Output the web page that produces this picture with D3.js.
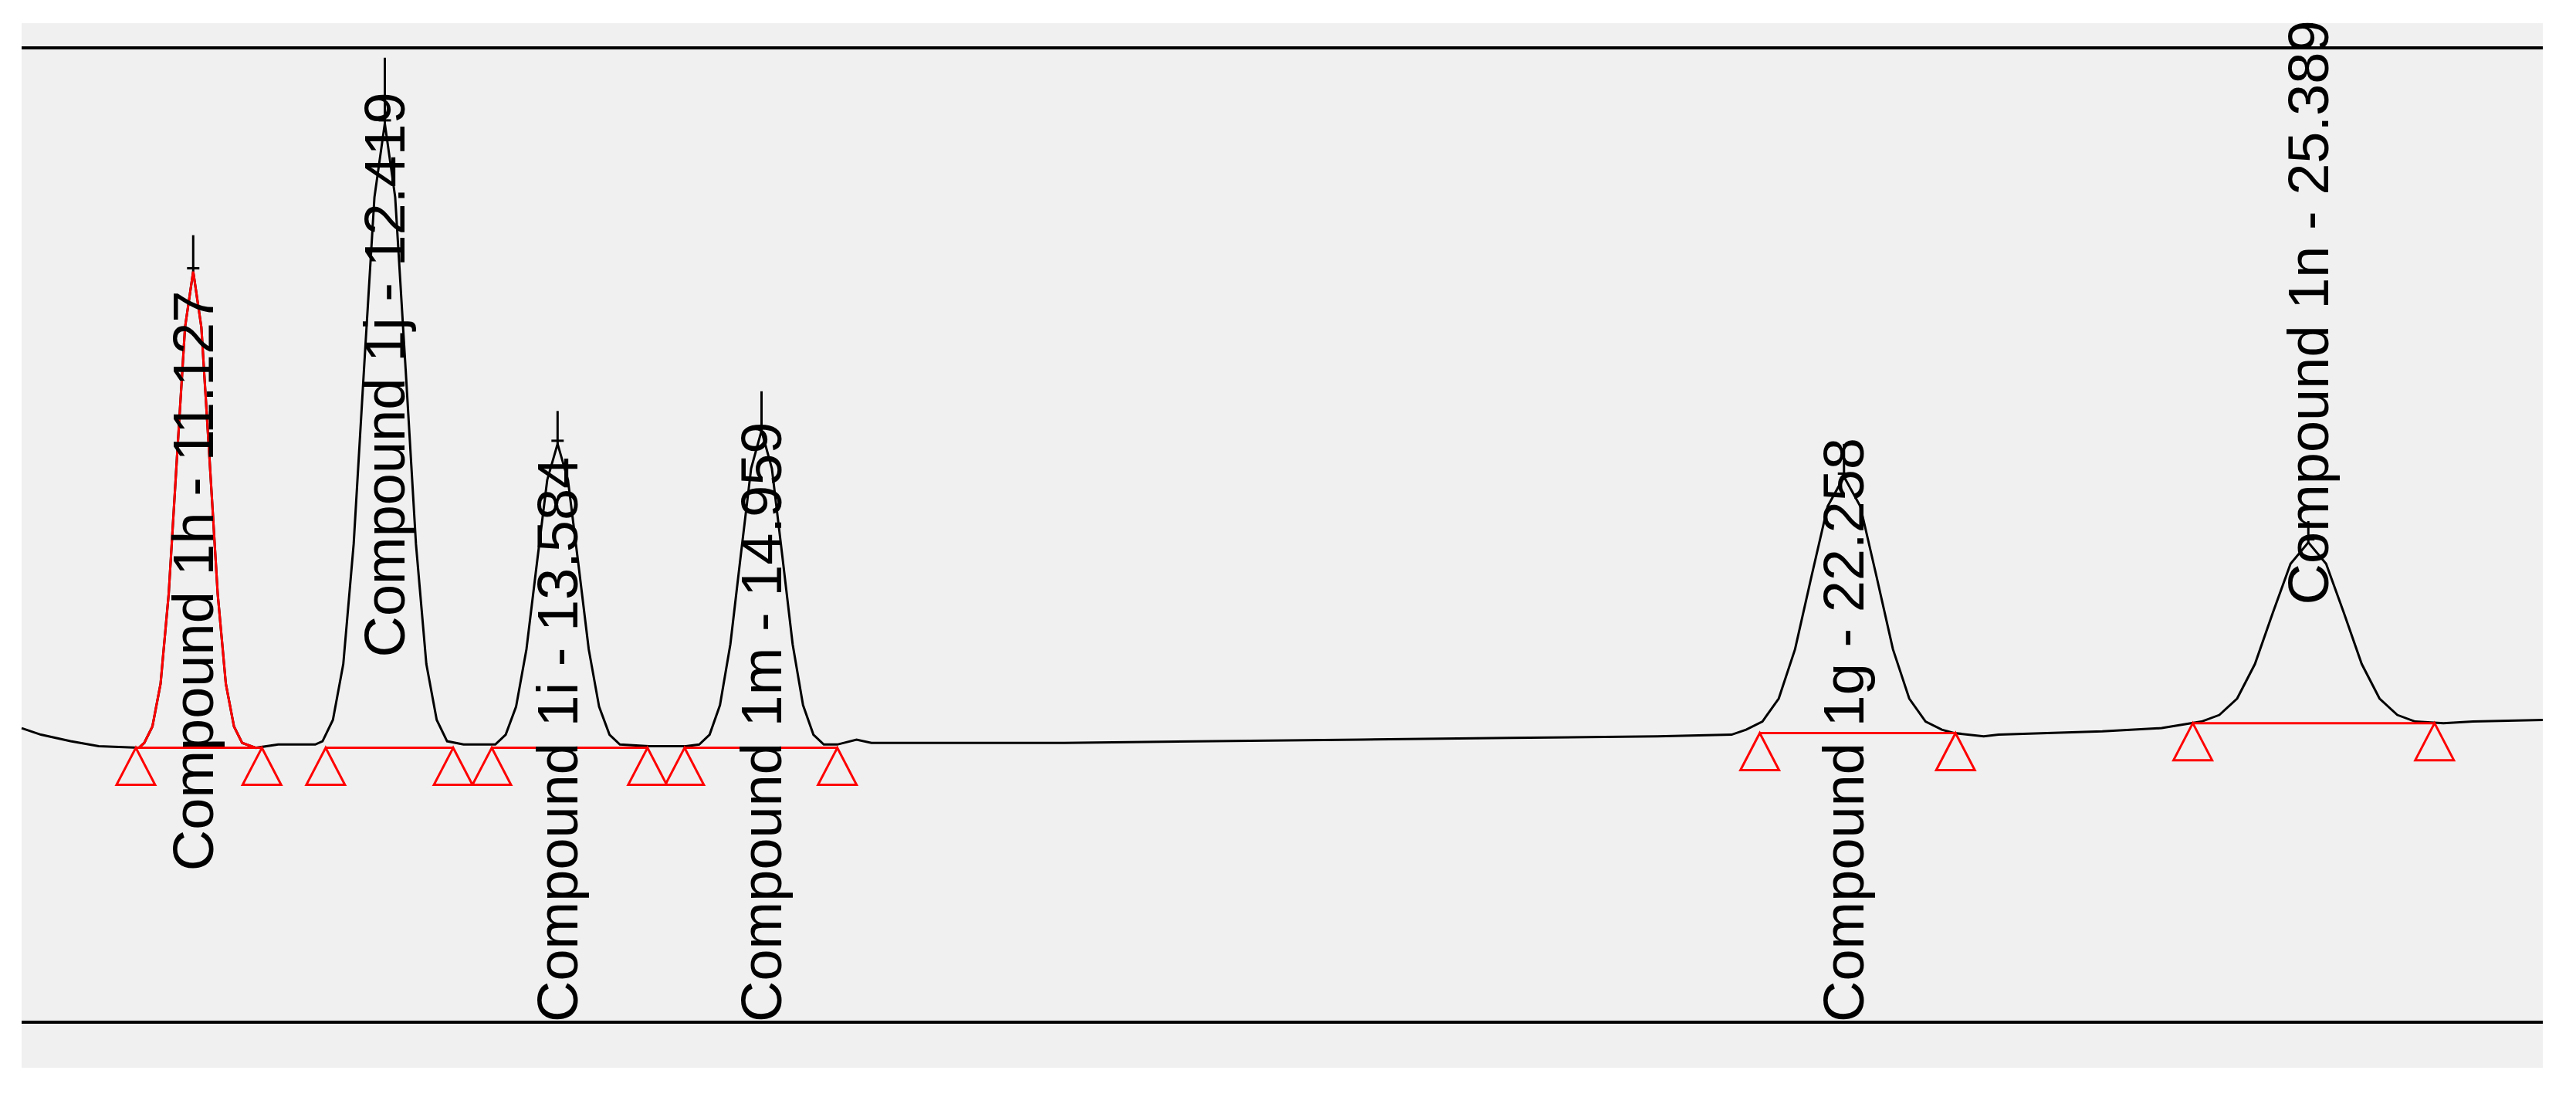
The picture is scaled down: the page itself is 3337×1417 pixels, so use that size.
<!DOCTYPE html>
<html><head><meta charset="utf-8">
<script src="https://cdn.jsdelivr.net/npm/d3@7"></script>
<style>html,body{margin:0;padding:0;background:#fff;}svg{display:block;}</style>
</head><body>
<script>
// Detector trace: [retention time (min), signal]
const trace = [
 [9.97,12],[10.1,8],[10.3,4],[10.49,1],[10.76,0],
 [10.797,3],[10.852,13],[10.907,39],[10.962,94],[11.017,176],[11.072,256],[11.127,290],[11.182,256],[11.237,176],[11.292,94],[11.347,39],[11.402,13],[11.457,3],
 [11.55,0],[11.70,2],[11.95,2],
 [11.999,4],[12.069,17],[12.139,51],[12.209,124],[12.279,231],[12.349,335],[12.419,380],[12.489,335],[12.559,231],[12.629,124],[12.699,51],[12.769,17],[12.839,4],
 [12.95,2],[13.10,2],
 [13.164,2],[13.234,8],[13.304,25],[13.374,60],[13.444,112],[13.514,163],[13.584,185],[13.654,163],[13.724,112],[13.794,60],[13.864,25],[13.934,8],[14.004,2],
 [14.2,1],[14.45,1],
 [14.539,2],[14.609,8],[14.679,26],[14.749,63],[14.819,117],[14.889,170],[14.959,193],[15.029,170],[15.099,117],[15.169,63],[15.239,26],[15.309,8],[15.379,2],
 [15.47,2],[15.6,5],[15.7,3],[16.0,3],[17.0,3],[18.0,4],[19.0,5],[20.0,6],[21.0,7],[21.5,8],
 [21.598,11],[21.708,16],[21.818,30],[21.928,60],[22.038,104],[22.148,147],[22.258,165],[22.368,147],[22.478,104],[22.588,60],[22.698,30],[22.808,16],[22.918,11],
 [23.0,9],[23.2,7],[23.3,8],[24.0,10],[24.4,12],
 [24.669,16],[24.789,20],[24.909,30],[25.029,51],[25.149,82],[25.269,112],[25.389,125],[25.509,112],[25.629,82],[25.749,51],[25.869,30],[25.989,20],[26.109,16],
 [26.3,15],[26.5,16],[26.97,17]
];
const peakNames = ["Compound 1h","Compound 1j","Compound 1i","Compound 1m","Compound 1g","Compound 1n"];
const peakTimes = [11.127,12.419,13.584,14.959,22.258,25.389];
const peakTop = [290,380,185,193,165,125];
const spikeTop = [312,420,205,217,185,138];
const baseStart = [10.74,12.02,13.14,14.44,21.69,24.61];
const baseEnd = [11.59,12.88,14.19,15.47,23.01,26.24];
const baseLevel = [0,0,0,0,9,15];
const labelAnchor = [-75,55,-167,-167,-167,87]; // signal level where each label starts

const W=3337,H=1417;
const svg=d3.select("body").append("svg").attr("width",W).attr("height",H);
svg.append("rect").attr("x",28).attr("y",30).attr("width",3266).attr("height",1353).attr("fill","#f0f0f0");
const x=d3.scaleLinear().domain([9.97,26.97]).range([28,3294]);
const y=d3.scaleLinear().domain([-167,426]).range([1324,62]);
svg.append("line").attr("x1",28).attr("x2",3294).attr("y1",y(426)).attr("y2",y(426)).attr("stroke","#000").attr("stroke-width",4);
svg.append("line").attr("x1",28).attr("x2",3294).attr("y1",y(-167)).attr("y2",y(-167)).attr("stroke","#000").attr("stroke-width",4);

const line=d3.line().x(d=>x(d[0])).y(d=>y(d[1]));
svg.append("path").attr("d",line(trace)).attr("fill","none").attr("stroke","#000").attr("stroke-width",3);
svg.append("path").attr("d",line(trace.filter(d=>d[0]>=baseStart[0]&&d[0]<=baseEnd[0])))
  .attr("fill","none").attr("stroke","#ff0000").attr("stroke-width",3);

peakTimes.forEach((t,i)=>{
  svg.append("line").attr("x1",x(t)).attr("x2",x(t)).attr("y1",y(peakTop[i])).attr("y2",y(spikeTop[i])).attr("stroke","#000").attr("stroke-width",3);
  svg.append("line").attr("x1",x(t)-8).attr("x2",x(t)+8).attr("y1",y(peakTop[i])-4).attr("y2",y(peakTop[i])-4).attr("stroke","#000").attr("stroke-width",3);
});
peakTimes.forEach((t,i)=>{
  svg.append("line").attr("x1",x(baseStart[i])).attr("x2",x(baseEnd[i])).attr("y1",y(baseLevel[i])).attr("y2",y(baseLevel[i])).attr("stroke","#ff0000").attr("stroke-width",3);
  [baseStart[i],baseEnd[i]].forEach(bt=>{
    const cx=x(bt),cy=y(baseLevel[i]);
    svg.append("path").attr("d",`M${cx},${cy}L${cx-25},${cy+48}L${cx+25},${cy+48}Z`).attr("fill","none").attr("stroke","#ff0000").attr("stroke-width",3);
  });
});
peakTimes.forEach((t,i)=>{
  const lx=x(t),ly=y(labelAnchor[i]);
  svg.append("text").attr("transform",`translate(${lx},${ly}) rotate(-90)`)
    .attr("dominant-baseline","central").attr("font-family","Liberation Sans, Arial, sans-serif").attr("font-size",74)
    .attr("fill","#000").text(`${peakNames[i]} - ${t.toFixed(3)}`);
});
</script>
</body></html>
